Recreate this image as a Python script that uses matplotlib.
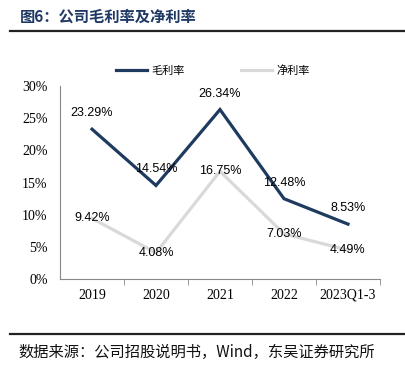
import matplotlib
matplotlib.use("Agg")
import matplotlib.pyplot as plt
from matplotlib.lines import Line2D

categories = ["2019", "2020", "2021", "2022", "2023Q1-3"]
gross_margin = [23.29, 14.54, 26.34, 12.48, 8.53]
net_margin = [9.42, 4.08, 16.75, 7.03, 4.49]
yticks = [0, 5, 10, 15, 20, 25, 30]
series_names = ["毛利率", "净利率"]

CJK = ["Noto Sans CJK SC", "DejaVu Sans"]
navy = "#1F3A5F"
grey = "#D9D9D9"

fig = plt.figure(figsize=(4.05, 3.76), dpi=100)
ax = fig.add_axes([60/405, 1-279/376, 320/405, 193/376])

x = list(range(len(categories)))
ax.plot(x, gross_margin, color=navy, lw=2.3, solid_joinstyle="miter", zorder=3)
ax.plot(x, net_margin, color=grey, lw=2.3, solid_joinstyle="miter", zorder=2)

for xi, v in zip(x, gross_margin):
    ax.annotate(f"{v:.2f}%", (xi, v), xytext=(0, 11.5), textcoords="offset points",
                ha="center", va="center", fontsize=9, family="Liberation Sans", zorder=5)
for xi, v in zip(x, net_margin):
    ax.annotate(f"{v:.2f}%", (xi, v), xytext=(0, 0), textcoords="offset points",
                ha="center", va="center", fontsize=9, family="Liberation Sans", zorder=5)

ax.set_xlim(-0.5, len(categories) - 0.5)
ax.set_ylim(0, 30)
ax.set_yticks(yticks)
ax.set_yticklabels([f"{t}%" for t in yticks], family="Liberation Serif", fontsize=10)
ax.set_xticks(x)
ax.set_xticklabels(categories, family="Liberation Serif", fontsize=10)
ax.tick_params(axis="x", length=0, pad=7)
ax.set_xticks([i + 0.5 for i in range(len(categories))], minor=True)
ax.tick_params(axis="x", which="minor", length=4, color="#888888", direction="out")
ax.tick_params(axis="y", length=0, pad=9)
for s in ["top", "right"]:
    ax.spines[s].set_visible(False)
for s in ["left", "bottom"]:
    ax.spines[s].set_color("#888888")
    ax.spines[s].set_linewidth(0.8)

handles = [Line2D([], [], color=navy, lw=2.3), Line2D([], [], color=grey, lw=2.3)]
fig.legend(handles, series_names, loc="center", bbox_to_anchor=(213/405, 1-71/376), ncol=2,
           frameon=False, prop={"family": CJK, "size": 8}, handlelength=2.8,
           handletextpad=0.45, columnspacing=5)

fig.text(20/405, 1-17/376, "图6：公司毛利率及净利率", family=CJK, fontsize=11, weight="bold",
         color="#1F3864", ha="left", va="center")
fig.add_artist(Line2D([10/405, 1], [1-31/376, 1-31/376], color="#222222", lw=1.6))
fig.add_artist(Line2D([10/405, 1], [1-334/376, 1-334/376], color="#222222", lw=1.6))
fig.text(18/405, 1-352/376, "数据来源：公司招股说明书，Wind，东吴证券研究所", family=CJK, fontsize=11,
         color="#111111", ha="left", va="center")

fig.savefig("out.png", dpi=100)
